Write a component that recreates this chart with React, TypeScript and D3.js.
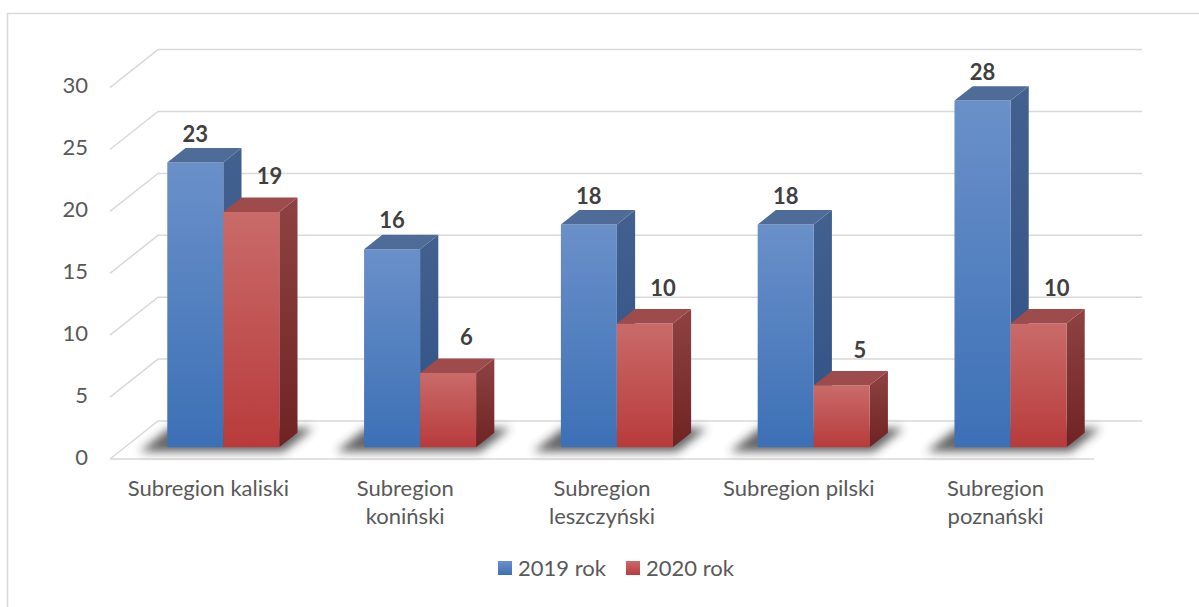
import * as d3 from 'd3';

const categories = ['Subregion kaliski', 'Subregion koniński', 'Subregion leszczyński', 'Subregion pilski', 'Subregion poznański'];
const categoryLines = [['Subregion kaliski'], ['Subregion', 'koniński'], ['Subregion', 'leszczyński'], ['Subregion pilski'], ['Subregion', 'poznański']];
const series2019 = [23, 16, 18, 18, 28];
const series2020 = [19, 6, 10, 5, 10];
const seriesNames = ['2019 rok', '2020 rok'];
const yTicks = [0, 5, 10, 15, 20, 25, 30];

const W = 1199;
const H = 607;
const FONT = 'Lato, "Open Sans", sans-serif';

// floor depth vector and bar depth range
const DX = 48;
const DY = -38;
const Z0 = 0.31;
const Z1 = 0.69;

const palettes = [
    { front: ['#6a90c9', '#3c70b6'], side: ['#43618f', '#2f5186'], top: '#4f6c98' },
    { front: ['#c96b6a', '#b83b3b'], side: ['#8e4242', '#6f2323'], top: '#9d4b4b' },
];

export default function App() {
    const x = d3.scaleBand<string>().domain(categories).range([110, 1094]);
    const y = d3.scaleLinear().domain([0, 30]).range([459, 87.6]);
    const P = (px: number, v: number, z: number): [number, number] => [px + z * DX, y(v) + z * DY];
    const pts = (arr: [number, number][]) => arr.map(p => p.join(',')).join(' ');
    const barW = 56;

    const values = [series2019, series2020];

    return (
        <div style={{ position: 'absolute', left: 0, top: 0 }}>
            <svg width={W} height={H} viewBox={`0 0 ${W} ${H}`} style={{ display: 'block', background: '#fff' }}>
                <defs>
                    {palettes.map((p, i) => (
                        <g key={i}>
                            <linearGradient id={`front${i}`} x1="0" y1="0" x2="0" y2="1">
                                <stop offset="0" stopColor={p.front[0]} />
                                <stop offset="1" stopColor={p.front[1]} />
                            </linearGradient>
                            <linearGradient id={`side${i}`} x1="0" y1="0" x2="0" y2="1">
                                <stop offset="0" stopColor={p.side[0]} />
                                <stop offset="1" stopColor={p.side[1]} />
                            </linearGradient>
                        </g>
                    ))}
                    <filter id="shadow" x="-20%" y="-50%" width="140%" height="200%">
                        <feGaussianBlur stdDeviation="5" />
                    </filter>
                </defs>

                <rect x={7.5} y={13.5} width={1300} height={700} fill="none" stroke="#d9d9d9" strokeWidth={1.5} />

                {/* gridlines: left wall + back wall */}
                {yTicks.map(t => {
                    const a = P(110, t, 0);
                    const b = P(110, t, 1);
                    const c = P(1094, t, 1);
                    return <polyline key={t} points={pts([a, b, c])} fill="none" stroke="#d9d9d9" strokeWidth={1.5} />;
                })}
                {/* floor front edge */}
                <line x1={110} y1={y(0)} x2={1094} y2={y(0)} stroke="#d9d9d9" strokeWidth={1.5} />

                {yTicks.map(t => (
                    <text key={t} x={88} y={y(t)} textAnchor="end" dominantBaseline="middle" fontFamily={FONT} fontSize={22} fill="#595959">
                        {t}
                    </text>
                ))}

                {/* floor shadows */}
                {categories.map(c => {
                    const x0 = x(c)! + (x.bandwidth() - 2 * barW) / 2;
                    const x1 = x0 + 2 * barW;
                    return (
                        <polygon
                            key={c}
                            points={pts([P(x0 - 22, 0, Z0 - 0.12), P(x1 + 10, 0, Z0 - 0.12), P(x1 + 10, 0, Z1 + 0.12), P(x0 - 22, 0, Z1 + 0.12)])}
                            fill="#333"
                            opacity={0.75}
                            filter="url(#shadow)"
                        />
                    );
                })}

                {/* bars */}
                {categories.map((c, ci) => {
                    const base = x(c)! + (x.bandwidth() - 2 * barW) / 2;
                    return values.map((vals, si) => {
                        const v = vals[ci];
                        const l = base + si * barW;
                        const r = l + barW;
                        const front = [P(l, v, Z0), P(r, v, Z0), P(r, 0, Z0), P(l, 0, Z0)] as [number, number][];
                        const side = [P(r, v, Z0), P(r, v, Z1), P(r, 0, Z1), P(r, 0, Z0)] as [number, number][];
                        const top = [P(l, v, Z0), P(l, v, Z1), P(r, v, Z1), P(r, v, Z0)] as [number, number][];
                        return (
                            <g key={`${c}-${si}`}>
                                <polygon points={pts(side)} fill={`url(#side${si})`} />
                                <polygon points={pts(front)} fill={`url(#front${si})`} />
                                <polygon points={pts(top)} fill={palettes[si].top} />
                            </g>
                        );
                    });
                })}

                {/* value labels */}
                {categories.map((c, ci) => {
                    const base = x(c)! + (x.bandwidth() - 2 * barW) / 2;
                    return values.map((vals, si) => {
                        const v = vals[ci];
                        const l = base + si * barW;
                        const backTop = P(l + barW / 2, v, Z1);
                        const lx = si === 0 ? P(l + barW / 2, v, Z0)[0] : backTop[0];
                        const ly = backTop[1] - (si === 0 ? 12 : 19);
                        return (
                            <text
                                key={`${c}-${si}-lbl`}
                                x={lx}
                                y={ly}
                                textAnchor="middle"
                                dominantBaseline="middle"
                                fontFamily={FONT}
                                fontSize={22}
                                fontWeight="bold"
                                fill="#404040"
                            >
                                {v}
                            </text>
                        );
                    });
                })}

                {/* category labels */}
                {categories.map((c, i) => (
                    <text key={c} x={x(c)! + x.bandwidth() / 2} y={496} textAnchor="middle" fontFamily={FONT} fontSize={22} fill="#595959">
                        {categoryLines[i].map((line, li) => (
                            <tspan key={li} x={x(c)! + x.bandwidth() / 2} dy={li === 0 ? 0 : 28}>
                                {line}
                            </tspan>
                        ))}
                    </text>
                ))}

                {/* legend */}
                {seriesNames.map((name, i) => (
                    <g key={name} transform={`translate(${498 + i * 128},561)`}>
                        <rect width={14} height={14} fill={`url(#front${i})`} />
                        <text x={20} y={15} fontFamily={FONT} fontSize={22} fill="#595959">
                            {name}
                        </text>
                    </g>
                ))}
            </svg>
        </div>
    );
}
